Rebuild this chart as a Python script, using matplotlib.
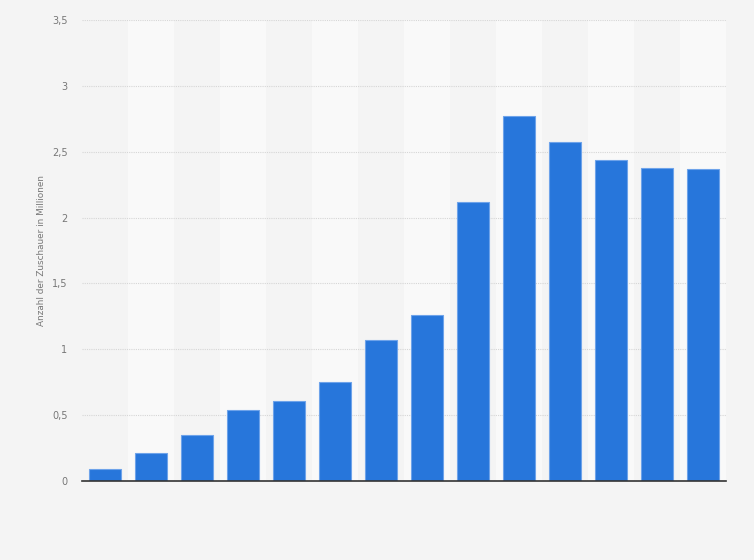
import matplotlib
matplotlib.use("Agg")
import matplotlib.pyplot as plt
import numpy as np

values = [0.09, 0.21, 0.35, 0.54, 0.61, 0.75, 1.07, 1.26, 2.12, 2.77, 2.57, 2.44, 2.38, 2.37]
yticks = [0, 0.5, 1, 1.5, 2, 2.5, 3, 3.5]
ytick_labels = ["0", "0,5", "1", "1,5", "2", "2,5", "3", "3,5"]
ylabel = "Anzahl der Zuschauer in Millionen"

fig = plt.figure(figsize=(7.54, 5.6), dpi=100)
fig.patch.set_facecolor("#f4f4f4")
ax = fig.add_axes([82/754, 1-481/560, (726-82)/754, (481-20)/560])
ax.set_facecolor("#f4f4f4")

n = len(values)
x = np.arange(n)
for i in range(n):
    if i % 2 == 1:
        ax.axvspan(i-0.5, i+0.5, color="#f9f9f9", zorder=0, lw=0)

ax.bar(x, values, width=0.7, color="#2776db", edgecolor="#6ea3ea", linewidth=0.8, zorder=3)

ax.set_xlim(-0.5, n-0.5)
ax.set_ylim(0, 3.5)
ax.set_yticks(yticks)
ax.set_yticklabels(ytick_labels)
ax.set_xticks([])
ax.yaxis.grid(True, linestyle=(0, (1, 1)), color="#d6d6d6", linewidth=0.8, zorder=1)
ax.set_axisbelow(True)
for s in ["top", "right", "left"]:
    ax.spines[s].set_visible(False)
ax.spines["bottom"].set_color("#333333")
ax.spines["bottom"].set_linewidth(1.2)
ax.spines["bottom"].set_zorder(4)
ax.tick_params(axis="y", length=0, pad=10.5, labelsize=7, labelcolor="#777777")
ax.set_ylabel(ylabel, fontsize=6.4, color="#777777", labelpad=4)

fig.savefig("out.png", dpi=100, facecolor=fig.get_facecolor())
